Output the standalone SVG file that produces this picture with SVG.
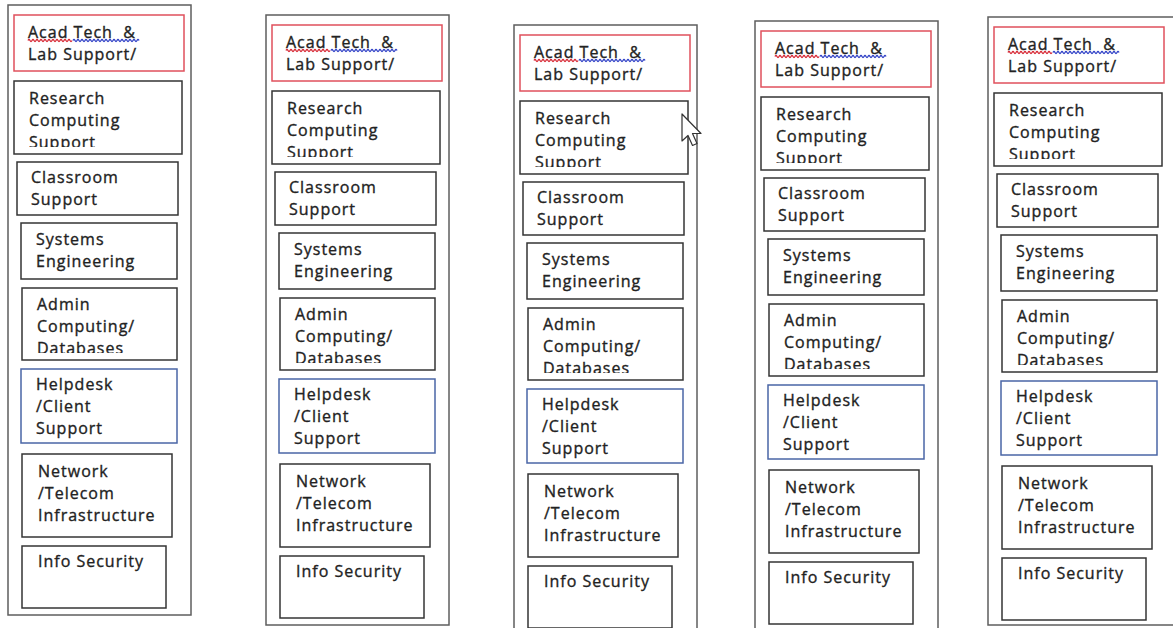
<svg xmlns="http://www.w3.org/2000/svg" width="1173" height="628" viewBox="0 0 1173 628">
<style>
.outer{fill:none;stroke:#5e5e5e;stroke-width:1.5}
.box{fill:#fff;stroke:#343434;stroke-width:1.5}
.red{stroke:#e0505c}
.blue{stroke:#4a66a6}
.t{font-family:"Open Sans","Liberation Sans",sans-serif;font-size:16px;fill:#222;stroke:#222;stroke-width:0.35;letter-spacing:1px;white-space:pre}
.sqr{fill:none;stroke:#d8303c;stroke-width:1.3}
.sqb{fill:none;stroke:#3848c8;stroke-width:1.3}
</style>
<defs>
<clipPath id="clipRC" clipPathUnits="userSpaceOnUse"><rect x="14" y="81" width="168" height="66"/></clipPath>
<clipPath id="clipAD" clipPathUnits="userSpaceOnUse"><rect x="22" y="288" width="155" height="65"/></clipPath>
<path id="wr" d="M28 40.5 q1 -2 2 0 t2 0 t2 0 t2 0 t2 0 t2 0 t2 0 t2 0 t2 0 t2 0 t2 0 t2 0 t2 0 t2 0 t2 0 t2 0 t2 0 t2 0 t2 0 t2 0 t2 0 t2 0"/>
<path id="wb" d="M73 40.5 q1 -2 2 0 t2 0 t2 0 t2 0 t2 0 t2 0 t2 0 t2 0 t2 0 t2 0 t2 0 t2 0 t2 0 t2 0 t2 0 t2 0 t2 0 t2 0 t2 0 t2 0 t2 0 t2 0 t2 0 t2 0 t2 0 t2 0 t2 0 t2 0 t2 0 t2 0 t2 0 t2 0 t2 0"/>
</defs>
<rect width="1173" height="628" fill="#fff"/>

<g id="col1" transform="translate(0,0)">
<rect class="outer" x="8" y="5" width="183" height="610"/>
<g id="c1-acad"><rect class="box red" x="14" y="15" width="170" height="56"/><text class="t" x="28" y="38">Acad Tech  &amp;</text><text class="t" x="28" y="60">Lab Support/</text><use href="#wr" class="sqr"/><use href="#wb" class="sqb"/></g>
<g id="c1-research"><rect class="box" x="14" y="81" width="168" height="73"/><g clip-path="url(#clipRC)"><text class="t" x="29" y="104">Research</text><text class="t" x="29" y="126">Computing</text><text class="t" x="29" y="148">Support</text></g></g>
<g id="c1-classroom"><rect class="box" x="17" y="162" width="161" height="53"/><text class="t" x="31" y="183">Classroom</text><text class="t" x="31" y="205">Support</text></g>
<g id="c1-systems"><rect class="box" x="21" y="223" width="156" height="56"/><text class="t" x="36" y="245">Systems</text><text class="t" x="36" y="267">Engineering</text></g>
<g id="c1-admin"><rect class="box" x="22" y="288" width="155" height="72"/><g clip-path="url(#clipAD)"><text class="t" x="37" y="310">Admin</text><text class="t" x="37" y="332">Computing/</text><text class="t" x="37" y="354">Databases</text></g></g>
<g id="c1-helpdesk"><rect class="box blue" x="21" y="369" width="156" height="74"/><text class="t" x="36" y="390">Helpdesk</text><text class="t" x="36" y="412">/Client</text><text class="t" x="36" y="434">Support</text></g>
<g id="c1-network"><rect class="box" x="22" y="454" width="150" height="83"/><text class="t" x="38" y="477">Network</text><text class="t" x="38" y="499">/Telecom</text><text class="t" x="38" y="521">Infrastructure</text></g>
<g id="c1-infosec"><rect class="box" x="22" y="546" width="144" height="62"/><text class="t" x="38" y="567">Info Security</text></g>
</g>

<g id="col2" transform="translate(258,10)">
<rect class="outer" x="8" y="5" width="183" height="610"/>
<g id="c2-acad"><rect class="box red" x="14" y="15" width="170" height="56"/><text class="t" x="28" y="38">Acad Tech  &amp;</text><text class="t" x="28" y="60">Lab Support/</text><use href="#wr" class="sqr"/><use href="#wb" class="sqb"/></g>
<g id="c2-research"><rect class="box" x="14" y="81" width="168" height="73"/><g clip-path="url(#clipRC)"><text class="t" x="29" y="104">Research</text><text class="t" x="29" y="126">Computing</text><text class="t" x="29" y="148">Support</text></g></g>
<g id="c2-classroom"><rect class="box" x="17" y="162" width="161" height="53"/><text class="t" x="31" y="183">Classroom</text><text class="t" x="31" y="205">Support</text></g>
<g id="c2-systems"><rect class="box" x="21" y="223" width="156" height="56"/><text class="t" x="36" y="245">Systems</text><text class="t" x="36" y="267">Engineering</text></g>
<g id="c2-admin"><rect class="box" x="22" y="288" width="155" height="72"/><g clip-path="url(#clipAD)"><text class="t" x="37" y="310">Admin</text><text class="t" x="37" y="332">Computing/</text><text class="t" x="37" y="354">Databases</text></g></g>
<g id="c2-helpdesk"><rect class="box blue" x="21" y="369" width="156" height="74"/><text class="t" x="36" y="390">Helpdesk</text><text class="t" x="36" y="412">/Client</text><text class="t" x="36" y="434">Support</text></g>
<g id="c2-network"><rect class="box" x="22" y="454" width="150" height="83"/><text class="t" x="38" y="477">Network</text><text class="t" x="38" y="499">/Telecom</text><text class="t" x="38" y="521">Infrastructure</text></g>
<g id="c2-infosec"><rect class="box" x="22" y="546" width="144" height="62"/><text class="t" x="38" y="567">Info Security</text></g>
</g>

<g id="col3" transform="translate(506,20)">
<rect class="outer" x="8" y="5" width="183" height="610"/>
<g id="c3-acad"><rect class="box red" x="14" y="15" width="170" height="56"/><text class="t" x="28" y="38">Acad Tech  &amp;</text><text class="t" x="28" y="60">Lab Support/</text><use href="#wr" class="sqr"/><use href="#wb" class="sqb"/></g>
<g id="c3-research"><rect class="box" x="14" y="81" width="168" height="73"/><g clip-path="url(#clipRC)"><text class="t" x="29" y="104">Research</text><text class="t" x="29" y="126">Computing</text><text class="t" x="29" y="148">Support</text></g></g>
<g id="c3-classroom"><rect class="box" x="17" y="162" width="161" height="53"/><text class="t" x="31" y="183">Classroom</text><text class="t" x="31" y="205">Support</text></g>
<g id="c3-systems"><rect class="box" x="21" y="223" width="156" height="56"/><text class="t" x="36" y="245">Systems</text><text class="t" x="36" y="267">Engineering</text></g>
<g id="c3-admin"><rect class="box" x="22" y="288" width="155" height="72"/><g clip-path="url(#clipAD)"><text class="t" x="37" y="310">Admin</text><text class="t" x="37" y="332">Computing/</text><text class="t" x="37" y="354">Databases</text></g></g>
<g id="c3-helpdesk"><rect class="box blue" x="21" y="369" width="156" height="74"/><text class="t" x="36" y="390">Helpdesk</text><text class="t" x="36" y="412">/Client</text><text class="t" x="36" y="434">Support</text></g>
<g id="c3-network"><rect class="box" x="22" y="454" width="150" height="83"/><text class="t" x="38" y="477">Network</text><text class="t" x="38" y="499">/Telecom</text><text class="t" x="38" y="521">Infrastructure</text></g>
<g id="c3-infosec"><rect class="box" x="22" y="546" width="144" height="62"/><text class="t" x="38" y="567">Info Security</text></g>
</g>

<g id="col4" transform="translate(747,16)">
<rect class="outer" x="8" y="5" width="183" height="610"/>
<g id="c4-acad"><rect class="box red" x="14" y="15" width="170" height="56"/><text class="t" x="28" y="38">Acad Tech  &amp;</text><text class="t" x="28" y="60">Lab Support/</text><use href="#wr" class="sqr"/><use href="#wb" class="sqb"/></g>
<g id="c4-research"><rect class="box" x="14" y="81" width="168" height="73"/><g clip-path="url(#clipRC)"><text class="t" x="29" y="104">Research</text><text class="t" x="29" y="126">Computing</text><text class="t" x="29" y="148">Support</text></g></g>
<g id="c4-classroom"><rect class="box" x="17" y="162" width="161" height="53"/><text class="t" x="31" y="183">Classroom</text><text class="t" x="31" y="205">Support</text></g>
<g id="c4-systems"><rect class="box" x="21" y="223" width="156" height="56"/><text class="t" x="36" y="245">Systems</text><text class="t" x="36" y="267">Engineering</text></g>
<g id="c4-admin"><rect class="box" x="22" y="288" width="155" height="72"/><g clip-path="url(#clipAD)"><text class="t" x="37" y="310">Admin</text><text class="t" x="37" y="332">Computing/</text><text class="t" x="37" y="354">Databases</text></g></g>
<g id="c4-helpdesk"><rect class="box blue" x="21" y="369" width="156" height="74"/><text class="t" x="36" y="390">Helpdesk</text><text class="t" x="36" y="412">/Client</text><text class="t" x="36" y="434">Support</text></g>
<g id="c4-network"><rect class="box" x="22" y="454" width="150" height="83"/><text class="t" x="38" y="477">Network</text><text class="t" x="38" y="499">/Telecom</text><text class="t" x="38" y="521">Infrastructure</text></g>
<g id="c4-infosec"><rect class="box" x="22" y="546" width="144" height="62"/><text class="t" x="38" y="567">Info Security</text></g>
</g>

<g id="col5" transform="translate(980,12)">
<rect class="outer" x="8" y="5" width="186" height="608"/>
<g id="c5-acad"><rect class="box red" x="14" y="15" width="170" height="56"/><text class="t" x="28" y="38">Acad Tech  &amp;</text><text class="t" x="28" y="60">Lab Support/</text><use href="#wr" class="sqr"/><use href="#wb" class="sqb"/></g>
<g id="c5-research"><rect class="box" x="14" y="81" width="168" height="73"/><g clip-path="url(#clipRC)"><text class="t" x="29" y="104">Research</text><text class="t" x="29" y="126">Computing</text><text class="t" x="29" y="148">Support</text></g></g>
<g id="c5-classroom"><rect class="box" x="17" y="162" width="161" height="53"/><text class="t" x="31" y="183">Classroom</text><text class="t" x="31" y="205">Support</text></g>
<g id="c5-systems"><rect class="box" x="21" y="223" width="156" height="56"/><text class="t" x="36" y="245">Systems</text><text class="t" x="36" y="267">Engineering</text></g>
<g id="c5-admin"><rect class="box" x="22" y="288" width="155" height="72"/><g clip-path="url(#clipAD)"><text class="t" x="37" y="310">Admin</text><text class="t" x="37" y="332">Computing/</text><text class="t" x="37" y="354">Databases</text></g></g>
<g id="c5-helpdesk"><rect class="box blue" x="21" y="369" width="156" height="74"/><text class="t" x="36" y="390">Helpdesk</text><text class="t" x="36" y="412">/Client</text><text class="t" x="36" y="434">Support</text></g>
<g id="c5-network"><rect class="box" x="22" y="454" width="150" height="83"/><text class="t" x="38" y="477">Network</text><text class="t" x="38" y="499">/Telecom</text><text class="t" x="38" y="521">Infrastructure</text></g>
<g id="c5-infosec"><rect class="box" x="22" y="546" width="144" height="62"/><text class="t" x="38" y="567">Info Security</text></g>
</g>

<g id="connectors"></g>

<g id="cursor">
<path d="M682 114 L682 141 L688 135.5 L692.5 145.5 L697 143.5 L692.5 133.5 L701 133.5 Z" fill="#fff" stroke="#333" stroke-width="1.2" stroke-linejoin="round"/>
</g>
</svg>
